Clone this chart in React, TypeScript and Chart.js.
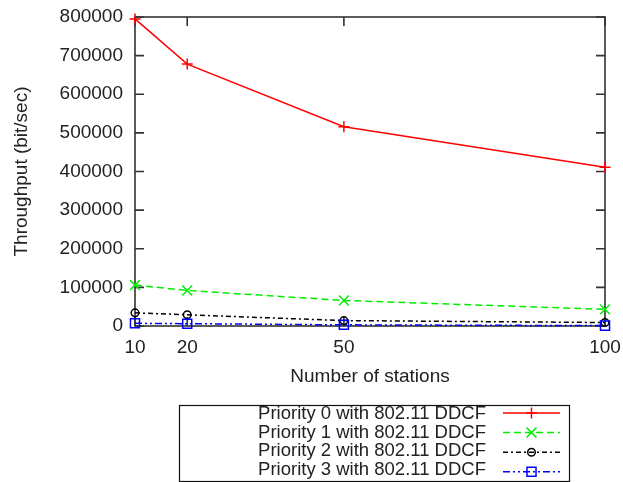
import React, { useEffect, useRef } from "react";
import { Chart, registerables } from "chart.js";

Chart.register(...registerables);

// Number of stations on the x axis
const stations = [10, 20, 50, 100];

// Throughput (bit/sec) per priority class
const priority0 = [795000, 678000, 516000, 411000];
const priority1 = [106000, 92000, 66000, 43000];
const priority2 = [34000, 29000, 14000, 9000];
const priority3 = [7000, 6000, 3000, 1000];

const yTicks = [0, 100000, 200000, 300000, 400000, 500000, 600000, 700000, 800000];

const seriesLabels = [
  "Priority 0 with 802.11 DDCF",
  "Priority 1 with 802.11 DDCF",
  "Priority 2 with 802.11 DDCF",
  "Priority 3 with 802.11 DDCF",
];

const FONT = "'Liberation Sans', Arial, sans-serif";
const TEXT = "#222";
const AXIS = "#333";

type Style = {
  color: string;
  dash: number[];
  point: string;
  radius: number;
};

const styles: Style[] = [
  { color: "#ff0000", dash: [], point: "cross", radius: 5.5 },
  { color: "#00ee00", dash: [7, 4], point: "crossRot", radius: 7 },
  { color: "#000000", dash: [5, 3, 2, 3], point: "circle", radius: 3.8 },
  { color: "#0000ff", dash: [7, 3, 2, 3, 2, 3], point: "rect", radius: 6.4 },
];

const seriesValues = [priority0, priority1, priority2, priority3];

function drawMarker(ctx: CanvasRenderingContext2D, s: Style, x: number, y: number) {
  ctx.save();
  ctx.setLineDash([]);
  ctx.strokeStyle = s.color;
  ctx.lineWidth = 1.5;
  ctx.beginPath();
  const r = s.radius;
  if (s.point === "cross") {
    ctx.moveTo(x - r, y);
    ctx.lineTo(x + r, y);
    ctx.moveTo(x, y - r);
    ctx.lineTo(x, y + r);
  } else if (s.point === "crossRot") {
    const d = r * Math.SQRT1_2;
    ctx.moveTo(x - d, y - d);
    ctx.lineTo(x + d, y + d);
    ctx.moveTo(x + d, y - d);
    ctx.lineTo(x - d, y + d);
  } else if (s.point === "circle") {
    ctx.arc(x, y, r, 0, Math.PI * 2);
  } else {
    const d = r * Math.SQRT1_2;
    ctx.rect(x - d, y - d, 2 * d, 2 * d);
  }
  ctx.stroke();
  ctx.restore();
}

const framePlugin = {
  id: "gnuplotFrame",
  beforeDatasetsDraw(chart: any) {
    const { ctx, chartArea: a, scales } = chart;
    ctx.save();
    ctx.strokeStyle = AXIS;
    ctx.lineWidth = 1.6;
    ctx.strokeRect(a.left, a.top, a.right - a.left, a.bottom - a.top);
    ctx.beginPath();
    const tl = 9;
    for (const v of yTicks) {
      const y = scales.y.getPixelForValue(v);
      ctx.moveTo(a.left, y);
      ctx.lineTo(a.left + tl, y);
      ctx.moveTo(a.right, y);
      ctx.lineTo(a.right - tl, y);
    }
    for (const v of stations) {
      const x = scales.x.getPixelForValue(v);
      ctx.moveTo(x, a.bottom);
      ctx.lineTo(x, a.bottom - tl);
      ctx.moveTo(x, a.top);
      ctx.lineTo(x, a.top + tl);
    }
    ctx.stroke();
    ctx.restore();
  },
  afterDraw(chart: any) {
    const { ctx, chartArea: a } = chart;
    ctx.save();
    ctx.fillStyle = TEXT;
    ctx.font = `19px ${FONT}`;
    ctx.textBaseline = "alphabetic";

    // x axis title
    ctx.textAlign = "center";
    ctx.fillText("Number of stations", (a.left + a.right) / 2, 382);

    // y axis title
    ctx.save();
    ctx.translate(27, (a.top + a.bottom) / 2);
    ctx.rotate(-Math.PI / 2);
    ctx.fillText("Throughput (bit/sec)", 0, 0);
    ctx.restore();

    // key box
    ctx.strokeStyle = "#111";
    ctx.lineWidth = 1.2;
    ctx.strokeRect(179.5, 405.5, 390, 76);

    ctx.font = `18.5px ${FONT}`;
    ctx.textAlign = "right";
    seriesLabels.forEach((label, i) => {
      ctx.fillStyle = TEXT;
      ctx.fillText(label, 486, 419 + i * 18.7);
      const s = styles[i];
      const ly = 413 + i * 19.6;
      ctx.save();
      ctx.strokeStyle = s.color;
      ctx.lineWidth = 1.5;
      ctx.setLineDash(s.dash);
      ctx.beginPath();
      ctx.moveTo(503, ly);
      ctx.lineTo(560, ly);
      ctx.stroke();
      ctx.restore();
      drawMarker(ctx, s, 531.5, ly);
    });
    ctx.restore();
  },
};

function noScalePadding(scale: any) {
  scale.paddingTop = 0;
  scale.paddingBottom = 0;
  scale.paddingLeft = 0;
  scale.paddingRight = 0;
}

export default function App() {
  const canvasRef = useRef<HTMLCanvasElement | null>(null);

  useEffect(() => {
    document.body.style.margin = "0";
    const canvas = canvasRef.current;
    if (!canvas) return;

    const datasets = seriesValues.map((vals, i) => {
      const s = styles[i];
      return {
        label: seriesLabels[i],
        data: stations.map((x, j) => ({ x, y: vals[j] })),
        borderColor: s.color,
        backgroundColor: "rgba(0,0,0,0)",
        borderWidth: 1.5,
        borderDash: s.dash,
        pointStyle: s.point as any,
        pointRadius: s.radius,
        pointBorderWidth: 1.5,
        pointBorderColor: s.color,
        pointBackgroundColor: "rgba(0,0,0,0)",
        tension: 0,
        clip: false as any,
        order: 3 - i,
      };
    });

    const chart = new Chart(canvas, {
      type: "line",
      data: { datasets },
      options: {
        responsive: false,
        animation: false,
        layout: { padding: { top: 17, right: 18, left: 0, bottom: 0 } },
        plugins: {
          legend: { display: false },
          tooltip: { enabled: false },
        },
        scales: {
          x: {
            type: "linear",
            min: 10,
            max: 100,
            afterBuildTicks: (scale: any) => {
              scale.ticks = stations.map((v) => ({ value: v }));
            },
            afterFit: (scale: any) => {
              scale.height = 156;
              noScalePadding(scale);
            },
            grid: { display: false, drawTicks: false },
            border: { display: false },
            ticks: {
              autoSkip: false,
              maxRotation: 0,
              padding: 10,
              color: TEXT,
              font: { family: FONT, size: 19 },
            },
          },
          y: {
            type: "linear",
            min: 0,
            max: 800000,
            afterBuildTicks: (scale: any) => {
              scale.ticks = yTicks.map((v) => ({ value: v }));
            },
            afterFit: (scale: any) => {
              scale.width = 135;
              noScalePadding(scale);
            },
            grid: { display: false, drawTicks: false },
            border: { display: false },
            ticks: {
              padding: 12,
              color: TEXT,
              font: { family: FONT, size: 19 },
              callback: (v: any) => String(v),
            },
          },
        },
      },
      plugins: [framePlugin],
    });

    return () => chart.destroy();
  }, []);

  return (
    <div style={{ width: 623, height: 482 }}>
      <canvas ref={canvasRef} width={623} height={482} style={{ display: "block" }} />
    </div>
  );
}
